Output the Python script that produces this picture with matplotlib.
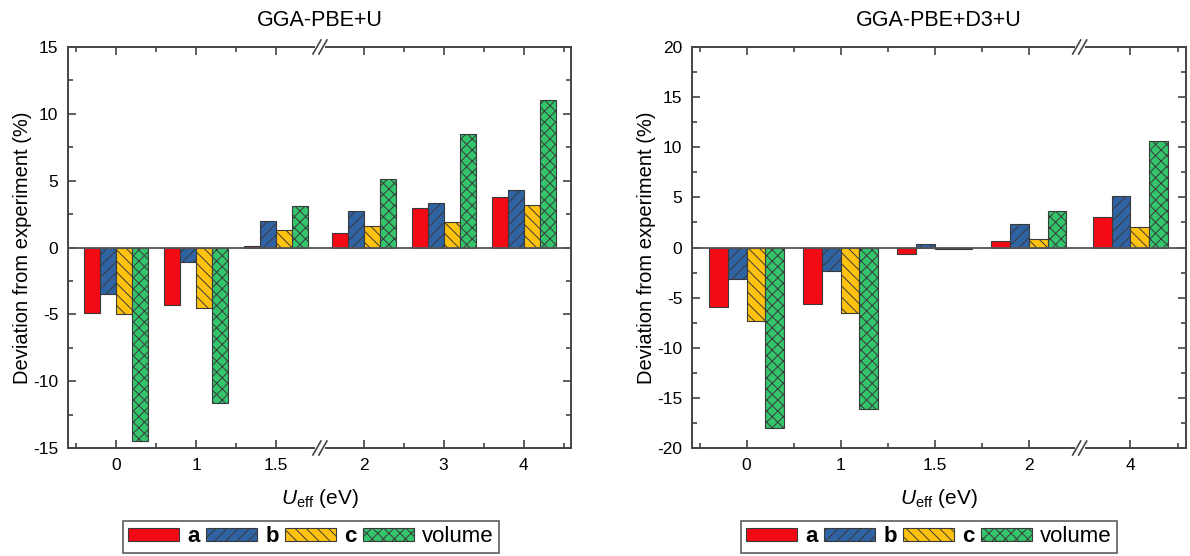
import matplotlib
matplotlib.use("Agg")
import matplotlib.pyplot as plt
import numpy as np

plt.rcParams['font.family'] = ['Liberation Sans', 'DejaVu Sans']
plt.rcParams['mathtext.fontset'] = 'custom'
plt.rcParams['mathtext.rm'] = 'Liberation Sans'
plt.rcParams['mathtext.it'] = 'Liberation Sans:italic'
plt.rcParams['hatch.linewidth'] = 0.7
plt.rcParams['axes.unicode_minus'] = False

# ---- data ----
series = ['a', 'b', 'c', 'volume']

left_title = 'GGA-PBE+U'
left_cats = ['0', '1', '1.5', '2', '3', '4']
left_a = [-4.9, -4.3, 0.1, 1.05, 2.95, 3.75]
left_b = [-3.5, -1.1, 1.95, 2.7, 3.35, 4.3]
left_c = [-5.0, -4.5, 1.3, 1.6, 1.9, 3.15]
left_vol = [-14.5, -11.6, 3.1, 5.15, 8.5, 11.0]
left_ylim = (-15, 15)
left_break_after = 2   # break between index 2 (1.5) and 3 (2)

right_title = 'GGA-PBE+D3+U'
right_cats = ['0', '1', '1.5', '2', '4']
right_a = [-5.9, -5.6, -0.6, 0.65, 3.0]
right_b = [-3.1, -2.3, 0.35, 2.35, 5.1]
right_c = [-7.3, -6.5, -0.1, 0.8, 2.05]
right_vol = [-18.0, -16.1, -0.1, 3.6, 10.6]
right_ylim = (-20, 20)
right_break_after = 3  # break between index 3 (2) and 4 (4)

colors = ['#f20a14', '#2f63a3', '#ffc20e', '#33c46c']
hatches = [None, '///', '\\\\\\', 'xxx']
edge = '#3a3a3a'

W, H = 1190, 556
fig = plt.figure(figsize=(W / 100, H / 100), dpi=100)


def make_panel(rect, title, cats, vals, ylim, brk, gap, xlim_pad, legend_center):
    ax = fig.add_axes(rect)
    n = len(cats)
    pos = np.array([i + (gap if i > brk else 0.0) for i in range(n)])
    width = 0.2
    offs = [-0.3, -0.1, 0.1, 0.3]
    handles = []
    for k, (v, col, h) in enumerate(zip(vals, colors, hatches)):
        b = ax.bar(pos + offs[k], v, width, color=col, edgecolor=edge,
                   linewidth=0.8, hatch=h, label=series[k], zorder=2)
        handles.append(b)
    ax.axhline(0, color='#555555', lw=1.3, zorder=3)
    ax.set_xlim(pos[0] - xlim_pad[0], pos[-1] + xlim_pad[1])
    ax.set_ylim(*ylim)
    ax.set_xticks(pos)
    ax.set_xticklabels(cats)
    minors = [-0.5] + [(pos[i] + pos[i + 1]) / 2 for i in range(n - 1) if i != brk] + [pos[-1] + 0.5]
    minors = [m for m in minors if ax.get_xlim()[0] < m < ax.get_xlim()[1]]
    ax.set_xticks(minors, minor=True)
    ax.set_yticks(np.arange(ylim[0], ylim[1] + 1, 5))
    ax.set_yticks(np.arange(ylim[0], ylim[1] + 0.1, 2.5), minor=True)
    ax.tick_params(which='both', direction='in', top=True, right=True,
                   color='#444444', width=1.2, labelsize=12.5, pad=7)
    ax.tick_params(which='major', length=6)
    ax.tick_params(which='minor', length=3.5)
    for s in ax.spines.values():
        s.set_color('#444444')
        s.set_linewidth(1.4)
    ax.set_title(title, fontsize=15.5, pad=15)
    ax.set_ylabel('Deviation from experiment (%)', fontsize=14.5, labelpad=1)
    ax.set_xlabel(r'$\mathit{U}_{\mathrm{eff}}$ (eV)', fontsize=15, labelpad=10)

    # axis break marks
    bx = (pos[brk] + pos[brk + 1]) / 2
    xl = ax.get_xlim()
    fx = (bx - xl[0]) / (xl[1] - xl[0])
    wpx = rect[2] * W
    hpx = rect[3] * H
    for fy in (0.0, 1.0):
        ax.plot([fx - 5 / wpx, fx + 5 / wpx], [fy, fy], transform=ax.transAxes,
                color='white', lw=3, clip_on=False, zorder=5, solid_capstyle='butt')
        for d in (-3, 3):
            ax.plot([fx + (d - 4) / wpx, fx + (d + 4) / wpx],
                    [fy - 7 / hpx, fy + 7 / hpx], transform=ax.transAxes,
                    color='#444444', lw=1.2, clip_on=False, zorder=6)

    leg = fig.legend(handles=handles, labels=series, loc='center',
                     bbox_to_anchor=legend_center, ncol=4, fontsize=16,
                     frameon=True, fancybox=False, edgecolor='#333333',
                     handlelength=2.3, handleheight=0.55, handletextpad=0.35,
                     columnspacing=0.3, borderpad=0.25, borderaxespad=0)
    leg.get_frame().set_linewidth(1.2)
    for t in leg.get_texts()[:3]:
        t.set_fontweight('bold')
    return ax


make_panel([68 / W, 1 - 448 / H, (571 - 68) / W, (448 - 47) / H],
           left_title, left_cats, [left_a, left_b, left_c, left_vol],
           left_ylim, left_break_after, 0.09, (0.6, 0.59),
           (311 / W, 1 - 537 / H))
make_panel([692 / W, 1 - 448 / H, (1186 - 692) / W, (448 - 47) / H],
           right_title, right_cats, [right_a, right_b, right_c, right_vol],
           right_ylim, right_break_after, 0.08, (0.58, 0.59),
           (929 / W, 1 - 537 / H))

fig.savefig('out.png', dpi=100)
